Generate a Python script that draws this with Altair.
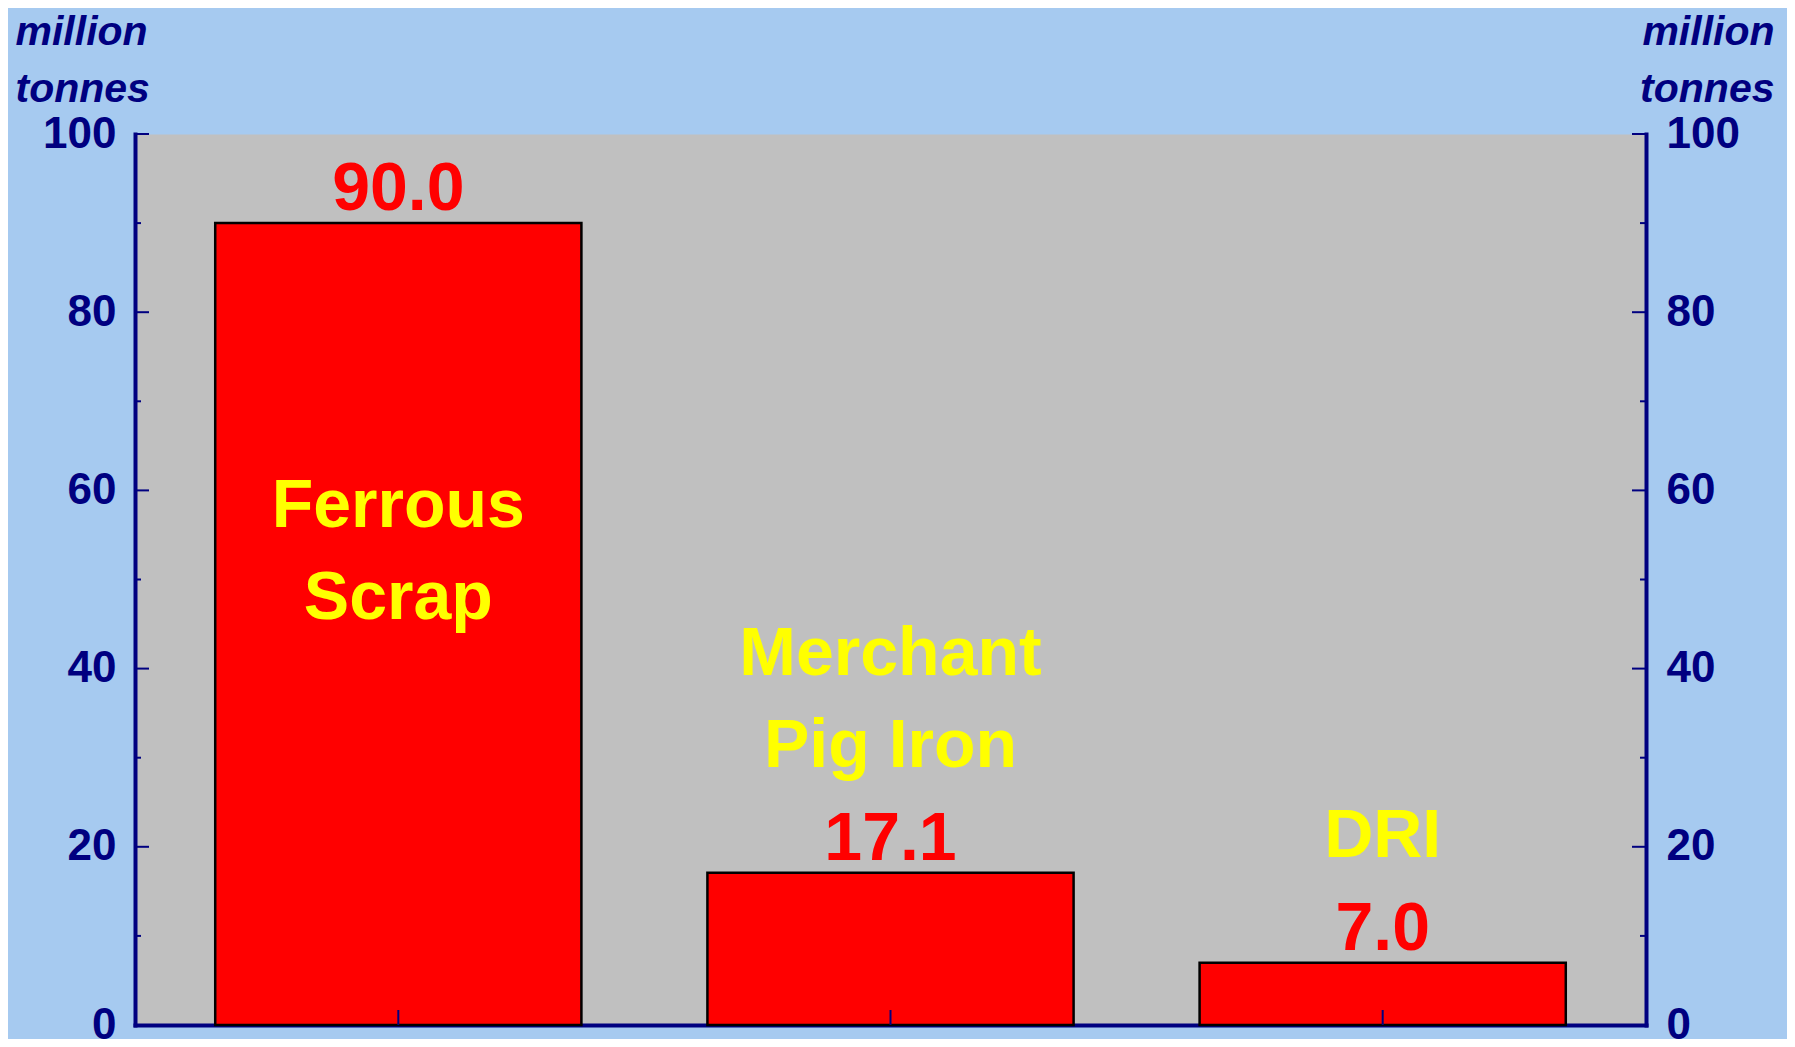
import altair as alt
import pandas as pd

# ---- data ----
categories = ["Ferrous Scrap", "Merchant Pig Iron", "DRI"]
label_lines = ["Ferrous\nScrap", "Merchant\nPig Iron", "DRI"]
values = [90.0, 17.1, 7.0]
value_labels = ["90.0", "17.1", "7.0"]
major_ticks = [0, 20, 40, 60, 80, 100]
minor_ticks = [10, 30, 50, 70, 90]
axis_title = ["million", "tonnes"]

# ---- style ----
W, H = 1511, 891
NAVY = "#000080"
FONT = "Liberation Sans"

bars_df = pd.DataFrame({"category": categories, "label": label_lines,
                        "value": values, "vlabel": value_labels})
major_df = pd.DataFrame({"tick": major_ticks})
minor_df = pd.DataFrame({"tick": minor_ticks})

yscale = alt.Scale(domain=[0, 100], nice=False, zero=True)
xscale = alt.Scale(domain=categories, paddingInner=0.256, paddingOuter=0.163)

x_axis = alt.Axis(labels=False, ticks=False, tickSize=0, title=None, grid=False,
                  domainColor=NAVY, domainWidth=4, domainCap="square")

common_y_axis = dict(values=major_ticks, ticks=False, tickSize=0, grid=False,
                     labelFont=FONT, labelFontSize=44, labelFontWeight="bold",
                     labelColor=NAVY, domainColor=NAVY, domainWidth=4, domainCap="square",
                     title=axis_title, titleAngle=0, titleBaseline="alphabetic",
                     titleY=-90, titleFont=FONT, titleFontSize=41,
                     titleFontStyle="italic", titleFontWeight="bold",
                     titleColor=NAVY, titleLineHeight=57)

left_axis = alt.Axis(orient="left", labelPadding=19, titleAlign="left", titleX=-120,
                     **common_y_axis)
right_axis = alt.Axis(orient="right", labelPadding=20, labelAlign="left",
                      titleAlign="right", titleX=128, **common_y_axis)


def xenc():
    return alt.X("category:N", scale=xscale, axis=x_axis)


def yenc(field):
    return alt.Y(field, scale=yscale, axis=left_axis)


bars = alt.Chart(bars_df).mark_bar(color="#FF0000", stroke="#000000", strokeWidth=2.5).encode(
    x=xenc(), y=yenc("value:Q"),
)

value_text = alt.Chart(bars_df).mark_text(
    color="#FF0000", font=FONT, fontSize=68, fontWeight="bold",
    baseline="alphabetic", dy=-13,
).encode(x=xenc(), y=yenc("value:Q"), text="vlabel:N")

label_style = dict(color="#FFFF00", font=FONT, fontSize=68, fontWeight="bold",
                   lineBreak="\n", lineHeight=92, baseline="alphabetic")

inside_text = alt.Chart(bars_df).transform_filter("datum.value > 50").transform_calculate(
    mid="datum.value / 2"
).mark_text(dy=-97, **label_style).encode(x=xenc(), y=yenc("mid:Q"), text="label:N")

outside_two = alt.Chart(bars_df).transform_filter(
    "datum.value <= 50 && indexof(datum.label, '\\n') >= 0"
).mark_text(dy=-198, **label_style).encode(x=xenc(), y=yenc("value:Q"), text="label:N")

outside_one = alt.Chart(bars_df).transform_filter(
    "datum.value <= 50 && indexof(datum.label, '\\n') < 0"
).mark_text(dy=-106, **label_style).encode(x=xenc(), y=yenc("value:Q"), text="label:N")

left_major = alt.Chart(major_df).mark_rule(color=NAVY, strokeWidth=2).encode(
    y=yenc("tick:Q"), x=alt.value(0), x2=alt.value(14))
left_minor = alt.Chart(minor_df).mark_rule(color=NAVY, strokeWidth=2).encode(
    y=yenc("tick:Q"), x=alt.value(0), x2=alt.value(6))

x_ticks = alt.Chart(bars_df).mark_rule(color=NAVY, strokeWidth=2).encode(
    x=xenc(), y=alt.value(H), y2=alt.value(H - 15))

main = alt.layer(bars, value_text, inside_text, outside_two, outside_one,
                 left_major, left_minor, x_ticks)

right_major = alt.Chart(major_df).mark_rule(color=NAVY, strokeWidth=2).encode(
    y=alt.Y("tick:Q", scale=yscale, axis=right_axis), x=alt.value(W), x2=alt.value(W - 14))
right_minor = alt.Chart(minor_df).mark_rule(color=NAVY, strokeWidth=2).encode(
    y=alt.Y("tick:Q", scale=yscale, axis=right_axis), x=alt.value(W), x2=alt.value(W - 6))
right = alt.layer(right_major, right_minor)

chart = alt.layer(main, right).resolve_scale(y="independent").properties(
    width=W, height=H,
    autosize="none",
    padding={"left": 127, "top": 126, "right": 141, "bottom": 14},
    background="#A6CAF0",
).configure_view(fill="#C0C0C0", stroke="transparent")

chart.save("out.html", embed_options={"renderer": "svg", "actions": False})
